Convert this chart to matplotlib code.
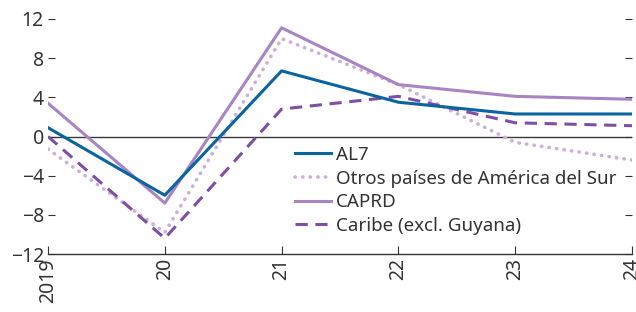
import matplotlib
matplotlib.use("Agg")
import matplotlib.pyplot as plt

years = [2019, 2020, 2021, 2022, 2023, 2024]
xlabels = ["2019", "20", "21", "22", "23", "24"]
al7 = [0.9, -6.0, 6.7, 3.5, 2.3, 2.3]
otros = [-1.3, -9.8, 10.0, 5.3, -0.6, -2.4]
caprd = [3.4, -6.8, 11.1, 5.3, 4.1, 3.8]
caribe = [0.0, -10.4, 2.8, 4.1, 1.4, 1.1]
yticks = [-12, -8, -4, 0, 4, 8, 12]
ylabels = ["\u221212", "\u22128", "\u22124", "0", "4", "8", "12"]

plt.rcParams['font.family'] = ['Noto Sans', 'DejaVu Sans']
fig = plt.figure(figsize=(6.36, 3.12), dpi=100)
ax = fig.add_axes([48/636, 58/312, 584/636, 235/312])

ax.axhline(0, color='#3a3a3a', lw=1.0, zorder=1)
ax.plot(years, al7, color='#0a64a0', lw=2.2, label='AL7', zorder=4)
ax.plot(years, otros, color='#cfaedc', lw=2.6, ls=(0, (0.1, 2.0)), dash_capstyle='round',
        label='Otros países de América del Sur', zorder=3)
ax.plot(years, caprd, color='#a884c4', lw=2.2, label='CAPRD', zorder=3)
ax.plot(years, caribe, color='#7f4fa6', lw=2.2, ls=(0, (4, 2.5)), label='Caribe (excl. Guyana)', zorder=3)

ax.set_xlim(2019, 2024)
ax.set_ylim(-12, 12)
ax.set_xticks(years)
ax.set_xticklabels(xlabels, rotation=90, fontsize=14, color='#333333')
ax.set_yticks(yticks)
ax.set_yticklabels(ylabels, fontsize=14, color='#333333')
ax.tick_params(axis='y', direction='in', length=5, color='#333333', left=True, right=True, pad=3)
ax.tick_params(axis='x', direction='in', length=6, color='#333333', pad=3)
for s in ['top', 'left', 'right']:
    ax.spines[s].set_visible(False)
ax.spines['bottom'].set_color('#333333')
ax.spines['bottom'].set_linewidth(1.0)

leg = ax.legend(loc='upper left', bbox_to_anchor=(0.423, 0.46), frameon=False, fontsize=13.5,
                handlelength=1.9, handletextpad=0.3, labelspacing=0.3, borderpad=0,
                borderaxespad=0)
for t in leg.get_texts():
    t.set_color('#333333')

fig.savefig('out.png', dpi=100)
